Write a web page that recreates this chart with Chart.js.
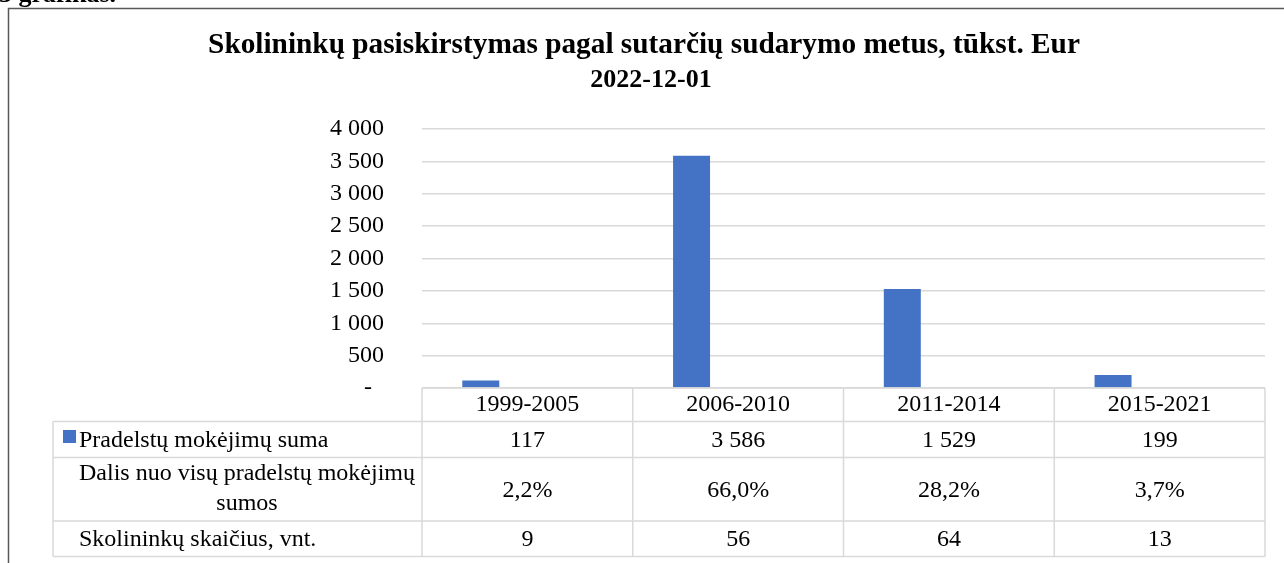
<!DOCTYPE html>
<html lang="lt">
<head>
<meta charset="utf-8">
<title>Skolininkų pasiskirstymas</title>
<script src="https://cdn.jsdelivr.net/npm/chart.js@4.4.0/dist/chart.umd.min.js"></script>
<style>
  html, body { margin: 0; padding: 0; background: #fff; overflow: hidden; }
</style>
</head>
<body>
<canvas id="myChart" width="1284" height="563"></canvas>
<script>
// Duomenys
const laikotarpiai = ['1999-2005', '2006-2010', '2011-2014', '2015-2021'];
const pradelstaSuma = [117, 3586, 1529, 199];
const dalisProc = [2.2, 66.0, 28.2, 3.7];
const skolininkuSk = [9, 56, 64, 13];
const yTicks = [0, 500, 1000, 1500, 2000, 2500, 3000, 3500, 4000];
const eilutes = ['Pradelstų mokėjimų suma', ['Dalis nuo visų pradelstų mokėjimų', 'sumos'], 'Skolininkų skaičius, vnt.'];
const pavadinimas = ['Skolininkų pasiskirstymas pagal sutarčių sudarymo metus, tūkst. Eur', '2022-12-01'];
const grafikoNr = '3 grafikas.';

const SERIF = '"Liberation Serif", "Times New Roman", serif';
const MELYNA = '#4472C4';
const TINKLAS = '#D9D9D9';

const tukst = n => String(n).replace(/\B(?=(\d{3})+(?!\d))/g, ' ');
const proc = v => v.toFixed(1).replace('.', ',') + '%';

// Lentelė po grafiku, pavadinimas ir rėmelis
const lentele = {
  id: 'lentele',
  afterDraw(chart) {
    const { ctx, chartArea: a, scales: { x } } = chart;
    const n = laikotarpiai.length;
    const w = (a.right - a.left) / n;
    const kaire = 53;
    const eil = [a.bottom, 421.5, 457.5, 521, 556.5];

    ctx.save();

    // rėmelis
    ctx.strokeStyle = '#595959';
    ctx.lineWidth = 1.5;
    ctx.beginPath();
    ctx.moveTo(8.5, 563);
    ctx.lineTo(8.5, 8.5);
    ctx.lineTo(1284, 8.5);
    ctx.stroke();

    // nupjautas užrašas viršuje
    ctx.fillStyle = '#000';
    ctx.font = 'bold 26px ' + SERIF;
    ctx.textAlign = 'left';
    ctx.textBaseline = 'alphabetic';
    ctx.fillText(grafikoNr, -1, 2);

    // pavadinimas
    ctx.textAlign = 'center';
    ctx.font = 'bold 29.3px ' + SERIF;
    ctx.fillText(pavadinimas[0], 644, 52.5);
    ctx.font = 'bold 26px ' + SERIF;
    ctx.fillText(pavadinimas[1], 651, 86.5);

    // lentelės linijos
    ctx.strokeStyle = TINKLAS;
    ctx.lineWidth = 1.5;
    ctx.beginPath();
    ctx.moveTo(a.left, eil[0]); ctx.lineTo(a.right, eil[0]);
    for (let r = 1; r < eil.length; r++) {
      ctx.moveTo(kaire, eil[r]); ctx.lineTo(a.right, eil[r]);
    }
    ctx.moveTo(kaire, eil[1]); ctx.lineTo(kaire, eil[4]);
    for (let i = 0; i <= n; i++) {
      const xx = a.left + i * w;
      ctx.moveTo(xx, eil[0]); ctx.lineTo(xx, eil[4]);
    }
    ctx.stroke();

    // reikšmės
    ctx.fillStyle = '#000';
    ctx.font = '24px ' + SERIF;
    ctx.textAlign = 'center';
    ctx.textBaseline = 'middle';
    laikotarpiai.forEach((lbl, i) => {
      const cx = x.getPixelForValue(i);
      ctx.fillText(lbl, cx, 405);
      ctx.fillText(tukst(pradelstaSuma[i]), cx, 441);
      ctx.fillText(proc(dalisProc[i]), cx, 491);
      ctx.fillText(String(skolininkuSk[i]), cx, 540);
    });

    // eilučių pavadinimai
    ctx.fillStyle = MELYNA;
    ctx.fillRect(63, 430, 13, 13);
    ctx.fillStyle = '#000';
    ctx.textAlign = 'left';
    ctx.fillText(eilutes[0], 79, 441);
    ctx.fillText(eilutes[2], 79, 540);
    ctx.textAlign = 'center';
    ctx.fillText(eilutes[1][0], 247, 474);
    ctx.fillText(eilutes[1][1], 247, 504);

    ctx.restore();
  }
};

const ctx = document.getElementById('myChart').getContext('2d');

new Chart(ctx, {
  type: 'bar',
  data: {
    labels: laikotarpiai,
    datasets: [
      {
        label: eilutes[0],
        data: pradelstaSuma,
        backgroundColor: MELYNA,
        categoryPercentage: 0.884,
        barPercentage: 0.397,
      },
      {
        // tuščia vieta šalia stulpelio, kaip Excel grafike
        label: '',
        data: laikotarpiai.map(() => null),
        backgroundColor: 'rgba(0,0,0,0)',
        categoryPercentage: 0.884,
        barPercentage: 0.397,
      },
    ],
  },
  options: {
    responsive: false,
    animation: false,
    devicePixelRatio: 1,
    layout: { padding: { top: 129, left: 0, right: 19, bottom: 175 } },
    plugins: {
      legend: { display: false },
      tooltip: { enabled: false },
      title: { display: false },
    },
    scales: {
      x: { display: false },
      y: {
        min: yTicks[0],
        max: yTicks[yTicks.length - 1],
        afterBuildTicks: s => { s.ticks = yTicks.map(v => ({ value: v })); },
        afterFit: s => { s.width = 422; },
        ticks: {
          padding: 38,
          color: '#000',
          font: { family: SERIF, size: 24 },
          callback: v => (v === 0 ? '-  ' : tukst(v)),
        },
        grid: { color: TINKLAS, lineWidth: 1.5, drawTicks: false },
        border: { display: false },
      },
    },
  },
  plugins: [lentele],
});
</script>
</body>
</html>
